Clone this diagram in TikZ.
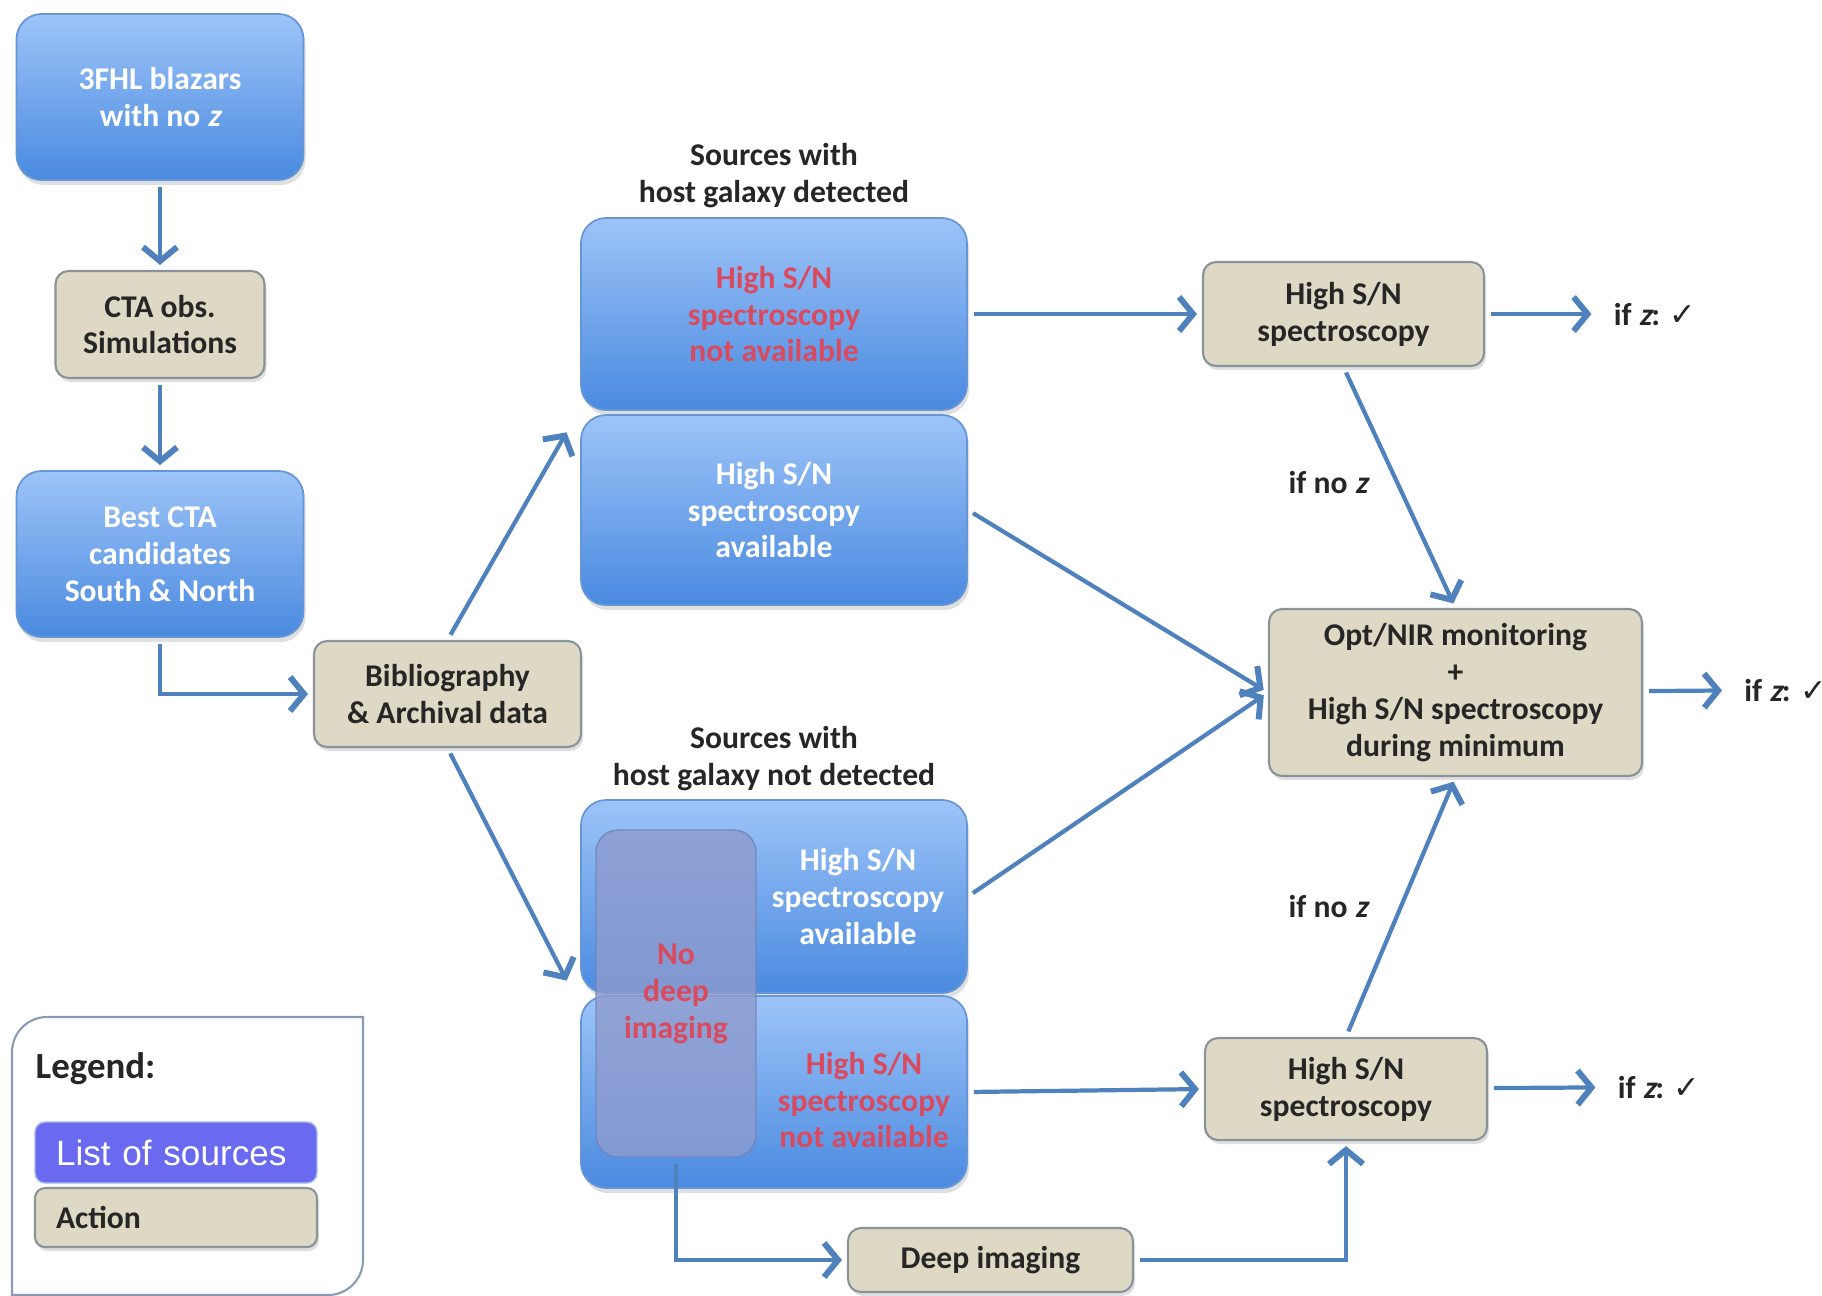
\documentclass[tikz,border=0pt]{standalone}
\usepackage{fontspec}
\setmainfont{Carlito}
\newfontfamily\zfont{Carlito}[FakeSlant=0.22]
\newfontfamily\arialfont{Liberation Sans}
\newfontfamily\symfont{DejaVu Sans}
\newcommand\zit{{\zfont z}}
\usepackage{tikz}
\usetikzlibrary{positioning,arrows.meta,shadows}
\definecolor{srctop}{HTML}{9DC4F8}
\definecolor{srcbot}{HTML}{4A8AE0}
\definecolor{srcedge}{HTML}{6796D6}
\definecolor{tan}{HTML}{DDD9C4}
\definecolor{tanedge}{HTML}{8A929C}
\definecolor{flowblue}{HTML}{4F81BD}
\definecolor{warnred}{HTML}{DA4A5E}
\definecolor{veil}{HTML}{8E9BCE}
\definecolor{veiledge}{HTML}{7181B8}
\definecolor{legendblue}{HTML}{6A6AF0}
\definecolor{legendframe}{HTML}{8A9AB4}

\begin{document}
\begin{tikzpicture}[
  srcbox/.style={top color=srctop, bottom color=srcbot, draw=srcedge,
                 rounded corners=0.25cm, line width=0.5pt, align=center,
                 text=white, font=\fontsize{9}{10.5}\selectfont\bfseries,
                 drop shadow={shadow xshift=0.02cm, shadow yshift=-0.05cm, opacity=0.25}},
  srctext/.style={align=center, text=white, font=\fontsize{9}{10.5}\selectfont\bfseries},
  actbox/.style={fill=tan, draw=tanedge, rounded corners=0.13cm,
                 line width=0.6pt, align=center, text=black!85,
                 font=\fontsize{9}{10.5}\selectfont\bfseries,
                 drop shadow={shadow xshift=0.02cm, shadow yshift=-0.04cm, opacity=0.25}},
  veilbox/.style={fill=veil, fill opacity=0.8, draw=veiledge, draw opacity=0.8,
                  rounded corners=0.22cm, text=warnred, text opacity=1, align=center,
                  font=\fontsize{9}{10.5}\selectfont\bfseries},
  caption/.style={align=center, text=black!85, font=\fontsize{9}{10.5}\selectfont\bfseries},
  arrow/.style={-{Straight Barb[length=1.4mm, width=3.4mm, line width=1.7pt]},
                line width=1.2pt, color=flowblue, shorten <=0.06cm, shorten >=0.05cm}
]
\useasboundingbox (0,0) rectangle (18.22,-12.95);

\node[srcbox, minimum width=2.87cm, minimum height=1.66cm] (fhl) at (1.60,-0.97) {3FHL blazars\\with no \zit};
\node[actbox, minimum width=2.09cm, minimum height=1.07cm] (cta) at (1.60,-3.245) {CTA obs.\\Simulations};
\node[srcbox, minimum width=2.87cm, minimum height=1.66cm] (best) at (1.60,-5.54) {Best CTA\\candidates\\South \& North};
\node[actbox, minimum width=2.67cm, minimum height=1.06cm] (biblio) at (4.475,-6.94) {Bibliography\\\& Archival data};

% host galaxy detected
\node[caption] (hdlab) at (7.74,-1.755) {Sources with\\host galaxy detected};
\node[srcbox, minimum width=3.86cm, minimum height=1.92cm, text=warnred] (hd1) at (7.74,-3.14) {High S/N\\spectroscopy\\not available};
\node[srcbox, minimum width=3.86cm, minimum height=1.90cm] (hd2) at (7.74,-5.10) {High S/N\\spectroscopy\\available};

% host galaxy not detected
\node[caption] (ndlab) at (7.74,-7.585) {Sources with\\host galaxy not detected};
\node[srcbox, minimum width=3.86cm, minimum height=1.93cm] (nd1) at (7.74,-8.965) {};
\node[srcbox, minimum width=3.86cm, minimum height=1.92cm] (nd2) at (7.74,-10.92) {};
\node[veilbox, minimum width=1.60cm, minimum height=3.27cm] (nodeep) at (6.76,-9.935) {No\\deep\\imaging};
\node[srctext] (nd1t) at ([xshift=0.84cm]nd1.center) {High S/N\\spectroscopy\\available};
\node[srctext, text=warnred] (nd2t) at ([xshift=0.9cm, yshift=-0.08cm]nd2.center) {High S/N\\spectroscopy\\not available};
\node[actbox, minimum width=2.85cm, minimum height=0.64cm] (deep) at (9.905,-12.60) {Deep imaging};

% actions on the right
\node[actbox, minimum width=2.81cm, minimum height=1.04cm] (spec1) at (13.435,-3.14) {High S/N\\spectroscopy};
\node[actbox, minimum width=3.73cm, minimum height=1.67cm] (opt) at (14.555,-6.925) {Opt/NIR monitoring\\+\\High S/N spectroscopy\\during minimum};
\node[actbox, minimum width=2.82cm, minimum height=1.02cm] (spec2) at (13.46,-10.89) {High S/N\\spectroscopy};

\node[caption] (ifz1) at (16.55,-3.14) {if \zit: {\symfont ✓}};
\node[caption, anchor=west] (ifz2) at (17.32,-6.90) {if \zit: {\symfont ✓}};
\node[caption] (ifz3) at (16.59,-10.87) {if \zit: {\symfont ✓}};
\node[caption] (ifnoz1) at (13.28,-4.82) {if no \zit};
\node[caption] (ifnoz2) at (13.28,-9.06) {if no \zit};

% legend
\draw[legendframe, line width=0.6pt] (0.12,-12.95) -- (0.12,-10.52)
  arc[start angle=180, end angle=90, radius=0.35] -- (3.63,-10.17) -- (3.63,-12.60)
  arc[start angle=0, end angle=-90, radius=0.35] -- cycle;
\node[anchor=west, inner sep=0pt, text=black!85, font=\fontsize{10.5}{12}\selectfont\bfseries] (legtitle) at (0.35,-10.69) {Legend:};
\node[fill=legendblue, draw=srcedge!60, rounded corners=0.1cm, minimum height=0.61cm,
      text width=2.40cm, inner xsep=0.21cm, align=left, text=white,
      font=\arialfont\fontsize{10}{12}\selectfont] (listsrc) at (1.76,-11.525) {List of sources};
\node[actbox, minimum height=0.59cm, text width=2.40cm, inner xsep=0.21cm, align=left,
      rounded corners=0.1cm] (action) at (1.76,-12.175) {Action};

% flow
\coordinate (hdin) at (5.69,-4.28);
\coordinate (ndin) at (5.69,-9.85);
\draw[arrow] (fhl) -- (cta);
\draw[arrow] (cta) -- (best);
\draw[arrow] (best.south) |- (biblio.west);
\draw[arrow] (biblio.north) -- (hdin);
\draw[arrow] (biblio.south) -- (ndin);
\draw[arrow] (hd1) -- (spec1);
\draw[arrow, shorten >=0.1cm] (spec1) -- (ifz1);
\draw[arrow] (spec1.south) -- (opt.north);
\draw[arrow] (hd2.east) -- (opt.west);
\draw[arrow] (nd1.east) -- (opt.west);
\draw[arrow, shorten >=0.1cm] (opt) -- (ifz2);
\draw[arrow] (nd2.east) -- (spec2.west);
\draw[arrow, shorten >=0.1cm] (spec2) -- (ifz3);
\draw[arrow] (spec2.north) -- (opt.south);
\draw[arrow] (nodeep.south) |- (deep.west);
\draw[arrow] (deep.east) -| (spec2.south);

\end{tikzpicture}
\end{document}
